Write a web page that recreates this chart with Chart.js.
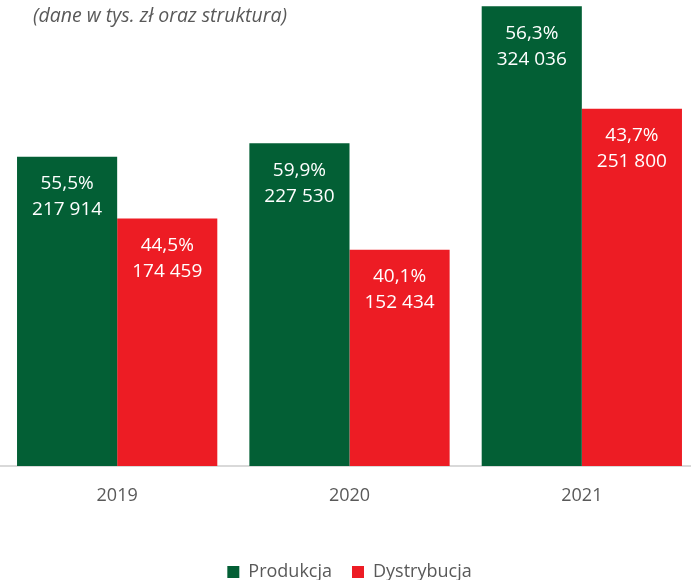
<!DOCTYPE html>
<html>
<head>
<meta charset="utf-8">
<script src="https://cdn.jsdelivr.net/npm/chart.js@4.4.1/dist/chart.umd.min.js"></script>
<style>
  html, body { margin: 0; padding: 0; background: #fff; overflow: hidden; }
  #wrap { position: relative; width: 698px; height: 591px; }
  #note {
    position: absolute; left: 33px; top: 1px;
    font: italic 19.5px "Open Sans", sans-serif; color: #595959;
    white-space: nowrap;
  }
</style>
</head>
<body>
<div id="wrap">
  <canvas id="myChart" width="698" height="591"></canvas>
  <div id="note">(dane w tys. zł oraz struktura)</div>
</div>
<script>
// data
var years = ["2019", "2020", "2021"];
var produkcja = [217914, 227530, 324036];
var dystrybucja = [174459, 152434, 251800];
var produkcjaShare = [55.5, 59.9, 56.3];
var dystrybucjaShare = [44.5, 40.1, 43.7];

function fmtNum(v) {
  return String(v).replace(/\B(?=(\d{3})+(?!\d))/g, " ");
}
function fmtPct(v) {
  return v.toFixed(1).replace(".", ",") + "%";
}

// labels inside the bars: share on top, value below
var barLabels = {
  id: 'barLabels',
  afterDatasetsDraw(chart) {
    const ctx = chart.ctx;
    const shares = [produkcjaShare, dystrybucjaShare];
    ctx.save();
    ctx.fillStyle = '#ffffff';
    ctx.font = '19px "Open Sans", sans-serif';
    ctx.textAlign = 'center';
    ctx.textBaseline = 'middle';
    chart.data.datasets.forEach((ds, di) => {
      chart.getDatasetMeta(di).data.forEach((bar, i) => {
        ctx.fillText(fmtPct(shares[di][i]), bar.x, bar.y + 27);
        ctx.fillText(fmtNum(ds.data[i]), bar.x, bar.y + 53);
      });
    });
    ctx.restore();
  }
};

new Chart(document.getElementById('myChart'), {
  type: 'bar',
  data: {
    labels: years,
    datasets: [
      { label: 'Produkcja', data: produkcja, backgroundColor: '#035F35' },
      { label: 'Dystrybucja', data: dystrybucja, backgroundColor: '#ED1C24' }
    ]
  },
  options: {
    responsive: false,
    animation: false,
    datasets: { bar: { barPercentage: 1, categoryPercentage: 0.862 } },
    layout: { padding: { left: 1, right: 0, top: 0, bottom: 0 } },
    plugins: {
      tooltip: { enabled: false },
      legend: {
        position: 'bottom',
        labels: {
          boxWidth: 12, boxHeight: 12, padding: 20,
          color: '#595959',
          font: { family: 'Open Sans', size: 18 }
        }
      }
    },
    scales: {
      x: {
        grid: { display: false },
        border: { display: true, color: '#d9d9d9', width: 2 },
        ticks: { color: '#595959', padding: 11, font: { family: 'Open Sans', size: 18 } },
        afterFit(scale) { scale.height = 77; }
      },
      y: { display: false, min: 0, max: 328400 }
    }
  },
  plugins: [barLabels]
});
</script>
</body>
</html>
